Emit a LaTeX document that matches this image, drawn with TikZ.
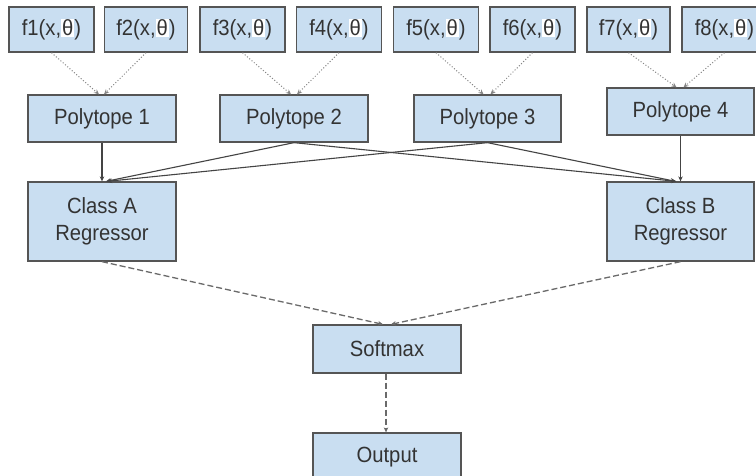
\documentclass[tikz,border=0pt]{standalone}
\usepackage{fontspec}
\setmainfont{Liberation Sans}[FakeStretch=0.92]
\usetikzlibrary{arrows.meta}
\definecolor{boxfill}{HTML}{C9DEF1}
\definecolor{boxdraw}{HTML}{555555}
\definecolor{txt}{HTML}{333333}
\definecolor{lineg}{HTML}{444444}
\definecolor{dotg}{HTML}{858585}
\definecolor{dashg}{HTML}{6A6A6A}
\newcommand{\thx}{{\setlength{\fboxsep}{1pt}\colorbox{white}{θ}}}
\tikzset{
  box/.style={draw=boxdraw, line width=1.3pt, fill=boxfill, rectangle, inner sep=0pt,
    text=txt, align=center, font=\fontsize{22}{27}\selectfont},
  fbox/.style={box, minimum width=85pt, minimum height=45pt},
  pbox/.style={box, minimum width=148pt, minimum height=47pt},
  rbox/.style={box, minimum width=148pt, minimum height=79pt},
  sbox/.style={box, minimum width=148pt, minimum height=48pt},
  tip/.style={-{Stealth[length=5pt,width=4.5pt]}},
  dotarrow/.style={tip, draw=dotg, line width=1pt, dotted},
  solidarrow/.style={tip, draw=lineg, line width=1.1pt},
  dasharrow/.style={tip, draw=dashg, line width=1.3pt, dash pattern=on 6pt off 3pt},
}
\begin{document}
\begin{tikzpicture}[x=1pt,y=-1pt]
\clip (0,0) rectangle (756,475);
\fill[white] (0,0) rectangle (756,475);
% top row
\node[fbox] (f1) at (51.5,29.5) {f1(x,\thx)};
\node[fbox, minimum width=83pt] (f2) at (146,29.5) {f2(x,\thx)};
\node[fbox] (f3) at (242.5,29.5) {f3(x,\thx)};
\node[fbox] (f4) at (339,29.5) {f4(x,\thx)};
\node[fbox] (f5) at (436,29.5) {f5(x,\thx)};
\node[fbox] (f6) at (532.5,29.5) {f6(x,\thx)};
\node[fbox, minimum width=83pt] (f7) at (628.5,29.5) {f7(x,\thx)};
\node[fbox] (f8) at (724.5,29.5) {f8(x,\thx)};
% polytopes
\node[pbox] (p1) at (102,118.5) {Polytope 1};
\node[pbox] (p2) at (294,118.5) {Polytope 2};
\node[pbox, minimum width=147pt] (p3) at (487.5,118.5) {Polytope 3};
\node[pbox, minimum width=147pt] (p4) at (680.5,111.5) {Polytope 4};
% regressors
\node[rbox] (ca) at (102,221.5) {Class A\\Regressor};
\node[rbox, minimum width=147pt] (cb) at (680.5,221.5) {Class B\\Regressor};
% softmax and output
\node[sbox] (sm) at (387,349) {Softmax};
\node[sbox] (out) at (387,457) {Output};
% dotted arrows
\draw[dotarrow] (f1.south) -- ([xshift=-3pt]p1.north);
\draw[dotarrow] (f2.south) -- ([xshift=2pt]p1.north);
\draw[dotarrow] (f3.south) -- ([xshift=-3pt]p2.north);
\draw[dotarrow] (f4.south) -- ([xshift=3pt]p2.north);
\draw[dotarrow] (f5.south) -- ([xshift=-4pt]p3.north);
\draw[dotarrow] (f6.south) -- ([xshift=3pt]p3.north);
\draw[dotarrow] (f7.south) -- ([xshift=-4pt]p4.north);
\draw[dotarrow] (f8.south) -- ([xshift=3pt]p4.north);
% solid arrows
\draw[solidarrow] (p1.south) -- (ca.north);
\draw[solidarrow] (p2.south) -- ([xshift=4pt]ca.north);
\draw[solidarrow] (p3.south) -- ([xshift=5pt]ca.north);
\draw[solidarrow] (p4.south) -- (cb.north);
\draw[solidarrow] (p2.south) -- ([xshift=-4pt]cb.north);
\draw[solidarrow] (p3.south) -- ([xshift=-5pt]cb.north);
% dashed arrows
\draw[dasharrow] (ca.south) -- ([xshift=-4pt]sm.north);
\draw[dasharrow] (cb.south) -- ([xshift=4pt]sm.north);
\draw[dasharrow] ([xshift=-1pt]sm.south) -- ([xshift=-1pt]out.north);
\end{tikzpicture}
\end{document}
